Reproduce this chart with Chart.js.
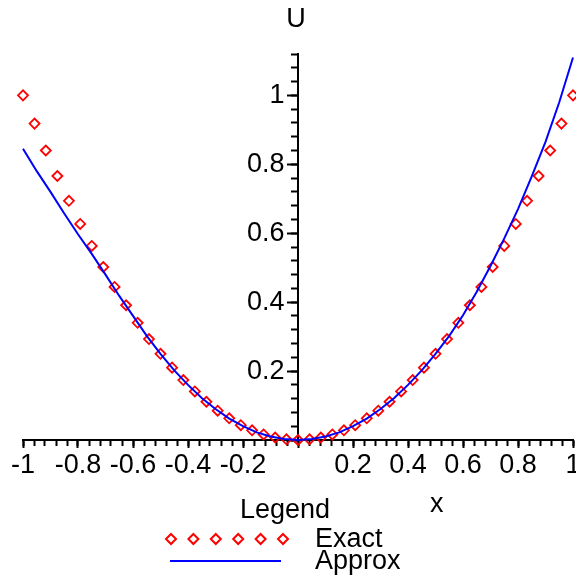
<!DOCTYPE html>
<html>
<head>
<meta charset="utf-8">
<script src="https://cdn.jsdelivr.net/npm/chart.js@4.4.1/dist/chart.umd.min.js"></script>
<style>
  html, body { margin: 0; padding: 0; background: #fff; }
</style>
</head>
<body>
<canvas id="plot" width="576" height="579"></canvas>
<script>
// exact solution
var exactX = [-1.000, -0.958, -0.917, -0.875, -0.833, -0.792, -0.750, -0.708, -0.667, -0.625,
              -0.583, -0.542, -0.500, -0.458, -0.417, -0.375, -0.333, -0.292, -0.250, -0.208,
              -0.167, -0.125, -0.083, -0.042, 0.000, 0.042, 0.083, 0.125, 0.167, 0.208,
              0.250, 0.292, 0.333, 0.375, 0.417, 0.458, 0.500, 0.542, 0.583, 0.625,
              0.667, 0.708, 0.750, 0.792, 0.833, 0.875, 0.917, 0.958, 1.000];
var exactU = [1.000, 0.918, 0.840, 0.766, 0.694, 0.627, 0.563, 0.502, 0.444, 0.391,
              0.340, 0.293, 0.250, 0.210, 0.174, 0.141, 0.111, 0.085, 0.063, 0.043,
              0.028, 0.016, 0.007, 0.002, 0.000, 0.002, 0.007, 0.016, 0.028, 0.043,
              0.063, 0.085, 0.111, 0.141, 0.174, 0.210, 0.250, 0.293, 0.340, 0.391,
              0.444, 0.502, 0.563, 0.627, 0.694, 0.766, 0.840, 0.918, 1.000];

// approximate solution
var approxX = [-1.00, -0.95, -0.90, -0.85, -0.80, -0.75, -0.70, -0.65, -0.60, -0.55,
               -0.50, -0.45, -0.40, -0.35, -0.30, -0.25, -0.20, -0.15, -0.10, -0.05,
               0.00, 0.05, 0.10, 0.15, 0.20, 0.25, 0.30, 0.35, 0.40, 0.45,
               0.50, 0.55, 0.60, 0.65, 0.70, 0.75, 0.80, 0.85, 0.90, 0.95, 1.00];
var approxU = [0.845, 0.780, 0.720, 0.657, 0.597, 0.540, 0.480, 0.418, 0.360, 0.302,
               0.250, 0.202, 0.160, 0.122, 0.090, 0.062, 0.040, 0.022, 0.010, 0.003,
               0.000, 0.003, 0.010, 0.022, 0.040, 0.062, 0.090, 0.122, 0.160, 0.202,
               0.250, 0.302, 0.362, 0.430, 0.505, 0.585, 0.670, 0.765, 0.865, 0.980, 1.110];

var seriesNames = ['Exact', 'Approx'];
var axisTitles = ['x', 'U'];
var legendTitle = 'Legend';

Chart.defaults.font.family = '"Liberation Sans", Arial, sans-serif';
Chart.defaults.color = '#000';

function pairs(xs, ys) {
    return xs.map(function (x, i) { return {x: x, y: ys[i]}; });
}
function isMajor(v) {
    var k = v / 0.2;
    return Math.abs(k - Math.round(k)) < 1e-6;
}
function majorLabel(v) {
    if (!isMajor(v)) return null;
    if (Math.abs(v) < 1e-9) return '';
    return String(Math.round(v * 10) / 10);
}
// y labels sit right on the axis line otherwise, push them left with an en space
function majorLabelY(v) {
    var s = majorLabel(v);
    return s ? s + '\u2002' : s;
}
function noPad(s) {
    s.paddingLeft = 0; s.paddingRight = 0; s.paddingTop = 0; s.paddingBottom = 0;
}

var tickFont = {size: 27};

// legend, axis titles
var overlay = {
    id: 'overlay',
    afterDraw: function (chart) {
        var ctx = chart.ctx;
        ctx.save();
        ctx.fillStyle = '#000';
        ctx.font = '27px "Liberation Sans"';
        ctx.textBaseline = 'alphabetic';
        ctx.textAlign = 'center';
        ctx.fillText(axisTitles[1], 296, 27);
        ctx.textAlign = 'left';
        ctx.fillText(axisTitles[0], 430, 512);
        ctx.fillText(legendTitle, 240, 518);
        ctx.fillText(seriesNames[0], 315, 547);
        ctx.fillText(seriesNames[1], 315, 569);

        ctx.strokeStyle = '#ff0000';
        ctx.lineWidth = 2;
        for (var k = 0; k < 6; k++) {
            var cx = 171 + k * 22.4, cy = 539, r = 5;
            ctx.beginPath();
            ctx.moveTo(cx, cy - r);
            ctx.lineTo(cx + r, cy);
            ctx.lineTo(cx, cy + r);
            ctx.lineTo(cx - r, cy);
            ctx.closePath();
            ctx.stroke();
        }
        ctx.strokeStyle = '#0000ff';
        ctx.lineWidth = 2;
        ctx.beginPath();
        ctx.moveTo(170, 561);
        ctx.lineTo(281, 561);
        ctx.stroke();
        ctx.restore();
    }
};

new Chart(document.getElementById('plot'), {
    type: 'scatter',
    data: {
        datasets: [
            {
                label: seriesNames[1],
                data: pairs(approxX, approxU),
                showLine: true,
                borderColor: '#0000ff',
                borderWidth: 2,
                pointRadius: 0,
                tension: 0,
                clip: false
            },
            {
                label: seriesNames[0],
                data: pairs(exactX, exactU),
                showLine: false,
                pointStyle: 'rectRot',
                pointRadius: 5,
                borderColor: '#ff0000',
                borderWidth: 1.8,
                backgroundColor: 'rgba(0,0,0,0)',
                clip: false
            }
        ]
    },
    options: {
        responsive: false,
        animation: false,
        layout: {autoPadding: false, padding: {left: 23, right: 3, top: 54, bottom: 139}},
        plugins: {legend: {display: false}, tooltip: {enabled: false}},
        scales: {
            x: {
                type: 'linear', min: -1, max: 1,
                position: {y: 0},
                afterFit: noPad,
                ticks: {stepSize: 0.04, autoSkip: false, maxRotation: 0, callback: function () { return ''; }},
                grid: {drawOnChartArea: false, tickLength: 5, tickWidth: 2, tickColor: '#000'},
                border: {color: '#000', width: 2}
            },
            xMajor: {
                axis: 'x', type: 'linear', min: -1, max: 1,
                position: {y: 0},
                afterFit: noPad,
                ticks: {stepSize: 0.2, autoSkip: false, maxRotation: 0, font: tickFont, padding: 1, callback: majorLabel},
                grid: {drawOnChartArea: false, tickLength: 8, tickWidth: 2, tickColor: '#000'},
                border: {display: false}
            },
            y: {
                type: 'linear', min: 0, max: 1.12,
                position: {x: 0},
                afterFit: noPad,
                ticks: {stepSize: 0.04, autoSkip: false, callback: function () { return ''; }},
                grid: {drawOnChartArea: false, tickLength: 6, tickWidth: 2, tickColor: '#000'},
                border: {color: '#000', width: 2}
            },
            yMajor: {
                axis: 'y', type: 'linear', min: 0, max: 1.12,
                position: {x: 0},
                afterFit: noPad,
                ticks: {stepSize: 0.2, autoSkip: false, font: tickFont, callback: majorLabelY},
                grid: {drawOnChartArea: false, tickLength: 11, tickWidth: 2, tickColor: '#000'},
                border: {display: false}
            }
        }
    },
    plugins: [overlay]
});
</script>
</body>
</html>
